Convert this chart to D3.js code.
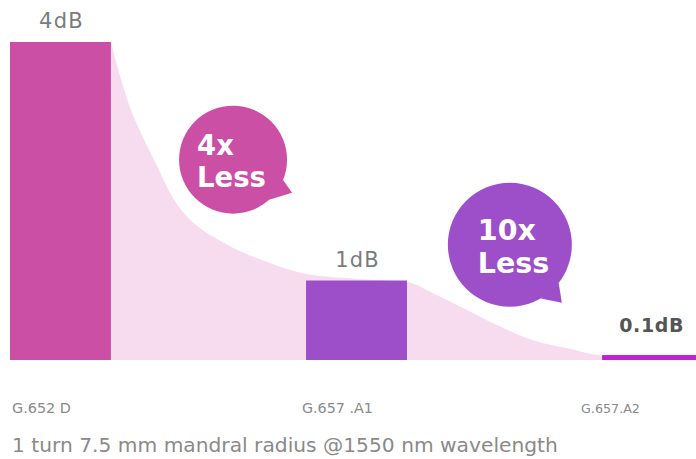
<!DOCTYPE html>
<html>
<head>
<meta charset="utf-8">
<script src="https://cdn.jsdelivr.net/npm/d3@7"></script>
<style>
  body { margin: 0; background: #fff; }
  svg { display: block; font-family: "DejaVu Sans", "Open Sans", sans-serif; }
</style>
</head>
<body>
<svg id="chart" width="696" height="459"></svg>
<script>
// data
const categories = [ 'G.652 D', 'G.657 .A1', 'G.657.A2' ];
const lossValues = [ 4, 1, 0.1 ];
const valueLabels = [ '4dB', '1dB', '0.1dB' ];
const barColors = [ '#cc4fa6', '#9c4fc8', '#c41fd2' ];

// decay curve behind the bars, position in category index units, value in dB
const curvePos = [ 0.171, 0.194, 0.228, 0.275, 0.329, 0.370, 0.414, 0.471, 0.539, 0.606, 0.708, 0.819, 1.0, 1.171, 1.258, 1.373, 1.485, 1.596, 1.711, 1.823, 2.0 ];
const curveVal = [ 4.0, 3.67, 3.25, 2.83, 2.42, 2.10, 1.86, 1.66, 1.50, 1.37, 1.22, 1.09, 1.02, 0.98, 0.84, 0.63, 0.42, 0.25, 0.15, 0.06, 0.04 ];

const bubbleText = [ [ '4x', 'Less' ], [ '10x', 'Less' ] ];
const bubblePos = [ 0.583, 1.518 ];
const bubbleVal = [ 2.52, 1.45 ];
const bubbleColors = [ '#cc4fa6', '#9c4fc8' ];

const caption = '1 turn 7.5 mm mandral radius @1550 nm wavelength';

const config = { left: 10, right: 703, base: 360, top: 42 };

// scale the font so the text spans the given width
function fitWidth( sel, target ) {
    sel.each( function ( d, i ) {
        const node = d3.select( this );
        const fs = +node.attr( 'font-size' );
        const w = this.getComputedTextLength();
        const t = typeof target === 'function' ? target( d, i ) : target;
        node.attr( 'font-size', fs * t / w );
    } );
}

function drawChart() {
    const svg = d3.select( '#chart' );

    const xScale = d3.scaleBand()
        .domain( categories )
        .range( [ config.left, config.right ] )
        .paddingInner( 0.659 )
        .paddingOuter( 0 );
    const bw = xScale.bandwidth();
    const center = i => xScale( categories[ i ] ) + bw / 2;

    const yScale = d3.scaleLinear()
        .domain( [ 0, 4 ] )
        .range( [ config.base, config.top ] );

    const posScale = d3.scaleLinear()
        .domain( [ 0, 2 ] )
        .range( [ center( 0 ), center( 2 ) ] );

    // light area
    const curveData = curvePos.map( ( p, i ) => ( { p, v: curveVal[ i ] } ) );
    const area = d3.area()
        .x( d => posScale( d.p ) )
        .y0( yScale( 0 ) )
        .y1( d => yScale( d.v ) )
        .curve( d3.curveMonotoneX );
    svg.append( 'path' )
        .datum( curveData )
        .attr( 'fill', '#f6dcee' )
        .attr( 'd', area );

    // bars
    const barH = v => yScale( 0 ) - yScale( v );
    svg.selectAll( 'rect.bar' ).data( lossValues )
        .enter().append( 'rect' )
        .attr( 'class', 'bar' )
        .attr( 'x', ( d, i ) => xScale( categories[ i ] ) )
        .attr( 'y', d => yScale( d ) + (d < 0.5 ? 3 : 0) )
        .attr( 'width', bw )
        .attr( 'height', d => barH( d ) - (d < 0.5 ? 3 : 0) )
        .attr( 'fill', ( d, i ) => barColors[ i ] );

    // value labels
    svg.selectAll( 'text.val' ).data( lossValues )
        .enter().append( 'text' )
        .attr( 'class', 'val' )
        .attr( 'x', ( d, i ) => i < 2 ? center( i ) + 1 : 684 )
        .attr( 'y', d => yScale( d ) - (d < 0.5 ? 20 : 14) )
        .attr( 'text-anchor', ( d, i ) => i < 2 ? 'middle' : 'end' )
        .attr( 'font-size', ( d, i ) => i < 2 ? 21 : 19 )
        .attr( 'letter-spacing', ( d, i ) => i < 2 ? 1.2 : 0.6 )
        .attr( 'font-weight', ( d, i ) => i < 2 ? 400 : 700 )
        .attr( 'fill', ( d, i ) => i < 2 ? '#7b7b7b' : '#555' )
        .text( ( d, i ) => valueLabels[ i ] );

    // bubbles
    const radii = [ 54, 62 ];
    const tails = [ [ 59, 33, 22, 48 ], [ 52, 58, 38, 60 ] ];
    bubbleText.forEach( ( lines, i ) => {
        const cx = posScale( bubblePos[ i ] );
        const cy = yScale( bubbleVal[ i ] );
        const r = radii[ i ];
        const [ tx, ty, a1, a2 ] = tails[ i ];
        const pt = a => [ cx + r * Math.cos( a * Math.PI / 180 ), cy + r * Math.sin( a * Math.PI / 180 ) ];
        const g = svg.append( 'g' ).attr( 'class', 'bubble' );
        g.append( 'path' )
            .attr( 'd', `M${pt( a1 )}L${cx + tx},${cy + ty}L${pt( a2 )}Z` )
            .attr( 'fill', bubbleColors[ i ] );
        g.append( 'circle' )
            .attr( 'cx', cx )
            .attr( 'cy', cy )
            .attr( 'r', r )
            .attr( 'fill', bubbleColors[ i ] );
        const left = i === 0 ? cx - 36 : cx - 32;
        g.selectAll( 'text' ).data( lines )
            .enter().append( 'text' )
            .attr( 'x', left )
            .attr( 'y', ( d, j ) => cy - 5 + j * (i === 0 ? 32 : 33) )
            .attr( 'font-size', i === 0 ? 27.5 : 28.5 )
            .attr( 'font-weight', 700 )
            .attr( 'fill', '#fff' )
            .text( d => d );
    } );

    // category labels
    const catX = [ 12, 302, 581 ];
    const catW = [ 59, 71, 59 ];
    svg.selectAll( 'text.cat' ).data( categories )
        .enter().append( 'text' )
        .attr( 'class', 'cat' )
        .attr( 'x', ( d, i ) => catX[ i ] )
        .attr( 'y', 413 )
        .attr( 'font-size', 12 )
        .attr( 'fill', '#8a8a8a' )
        .text( d => d )
        .call( fitWidth, ( d, i ) => catW[ i ] );

    svg.append( 'text' )
        .attr( 'x', 12 )
        .attr( 'y', 452 )
        .attr( 'font-size', 20 )
        .attr( 'fill', '#8a8a8a' )
        .text( caption )
        .call( fitWidth, 546 );
}

drawChart();
</script>
</body>
</html>
